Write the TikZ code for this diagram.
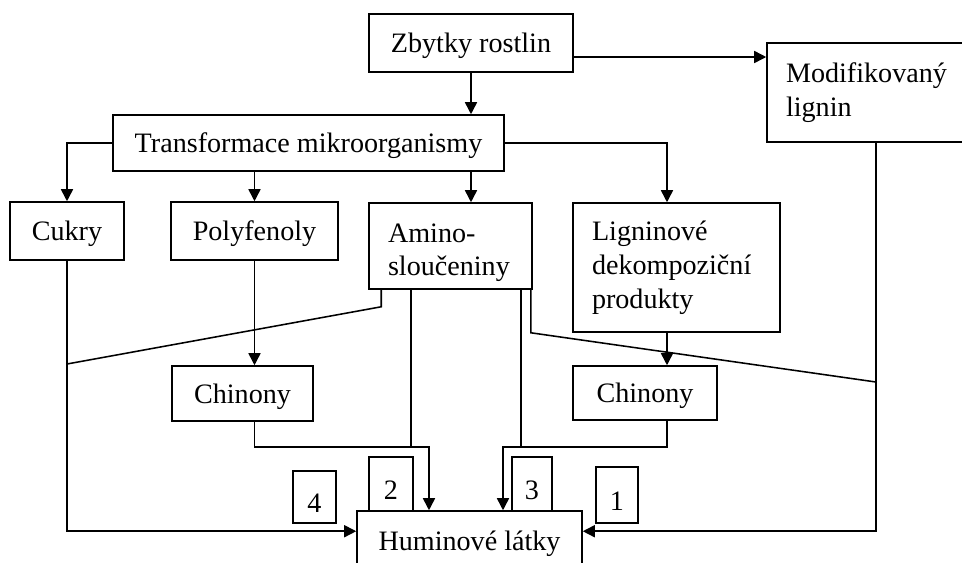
\documentclass[tikz,border=0pt]{standalone}
\usepackage{fontspec}
\setmainfont{Liberation Serif}
\usepackage{tikz}
\usetikzlibrary{arrows.meta}
\newlength\unitpx
\setlength\unitpx{0.025cm}

\begin{document}
\begin{tikzpicture}[x=0.025cm, y=-0.025cm,
        font=\fontsize{20}{24}\selectfont,
        box/.style={draw, line width=1.1pt, inner sep=0pt, fill=white},
        plainbox/.style={box, text height=19pt, text depth=5pt},
        listbox/.style={box, align=left, inner xsep=19\unitpx},
        numbox/.style={box, text height=30\unitpx, text depth=0pt, minimum width=42\unitpx, minimum height=52\unitpx},
        line/.style={line width=1.1pt},
        arr/.style={line, -{Triangle[length=0.3cm, width=0.3cm]}}]
            \useasboundingbox (0,0) rectangle (962,562);
            \node[plainbox, minimum width=204\unitpx, minimum height=58\unitpx] (zbytky) at (471,43) {Zbytky rostlin};
            \node[listbox, text width=180\unitpx, minimum height=99\unitpx] (modif) at (876,92.5) {Modifikovaný\\lignin};
            \node[plainbox, minimum width=391\unitpx, minimum height=56\unitpx] (transf) at (308.5,143) {Transformace mikroorganismy};
            \node[plainbox, minimum width=114\unitpx, minimum height=58\unitpx] (cukry) at (67,231) {Cukry};
            \node[plainbox, minimum width=167\unitpx, minimum height=58\unitpx] (polyf) at (254.5,231) {Polyfenoly};
            \node[listbox, text width=125\unitpx, minimum height=86\unitpx] (amino) at (450.5,246) {\rule{0pt}{32\unitpx}Amino-\\sloučeniny};
            \node[listbox, text width=169\unitpx, minimum height=129\unitpx] (lignin) at (676.5,267.5) {Ligninové\\dekompoziční\\produkty};
            \node[plainbox, minimum width=141\unitpx, minimum height=55\unitpx] (chin1) at (242.5,393.5) {Chinony};
            \node[plainbox, minimum width=144\unitpx, minimum height=54\unitpx] (chin2) at (645,393) {Chinony};
            \node[plainbox, minimum width=225\unitpx, minimum height=59\unitpx] (humin) at (469.5,540.5) {Huminové látky};
            \node[numbox, minimum width=43\unitpx] (n4) at (314.5,497) {4};
            \node[numbox, minimum width=44\unitpx, minimum height=54\unitpx] (n2) at (391,484) {2};
            \node[numbox, minimum width=40\unitpx, minimum height=54\unitpx] (n3) at (532,484) {3};
            \node[numbox, minimum height=56\unitpx] (n1) at (617,495) {1};
            \coordinate (zr) at (zbytky.east |- 0,57);
            \coordinate (ls) at ([xshift=-9.5\unitpx]lignin.south);
            \coordinate (hw) at ([yshift=-21\unitpx]humin.north west);
            \coordinate (he) at ([yshift=-21\unitpx]humin.north east);
            \coordinate (ja) at (429,447);
            \coordinate (jb) at (503,447);
            \draw[arr] (zr) -- (zr -| modif.west);
            \draw[arr] (zbytky.south) -- (zbytky.south |- transf.north);
            \draw[arr] (transf.west) -| (cukry.north);
            \draw[arr] (transf.south -| polyf.north) -- (polyf.north);
            \draw[arr] (transf.south -| zbytky.south) -- (amino.north -| zbytky.south);
            \draw[arr] (transf.east) -| (ls |- lignin.north);
            \draw[arr] (polyf.south) -- (polyf.south |- chin1.north);
            \draw[arr] (ls) -- (ls |- chin2.north);
            \draw[arr] (cukry.south) |- (hw);
            \draw[arr] (modif.south) |- (he);
            \draw[line] ([xshift=13\unitpx]amino.south west) -- ++(0,17) -- (cukry.south |- 0,364);
            \draw[line] ([xshift=-2\unitpx]amino.south east) -- ([xshift=-2\unitpx]amino.south east |- lignin.south) -- (modif.south |- 0,382);
            \draw[line] ([xshift=-39.5\unitpx]amino.south) -- ([xshift=-39.5\unitpx]amino.south |- ja);
            \draw[line] ([xshift=70.5\unitpx]amino.south) -- ([xshift=70.5\unitpx]amino.south |- jb);
            \draw[arr] (chin1.south -| polyf.south) |- (ja) -- (ja |- humin.north);
            \draw[arr] (chin2.south -| ls) |- (jb) -- (jb |- humin.north);
        \end{tikzpicture}
\end{document}
